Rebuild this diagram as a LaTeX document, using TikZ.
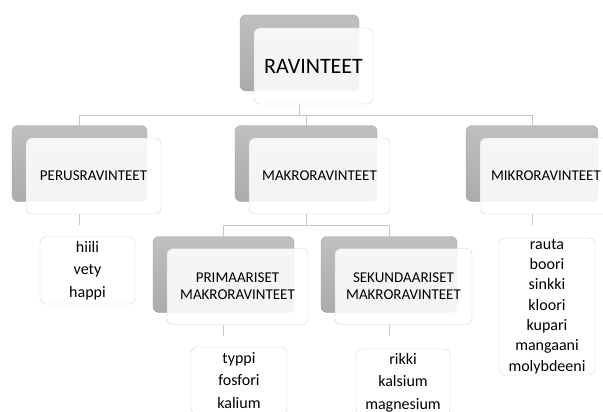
\documentclass[tikz,border=0pt]{standalone}
\usepackage{fontspec}
\setmainfont{Carlito}
\usepackage{tikz}

\begin{document}
\begin{tikzpicture}[x=1pt,y=-1pt,
    back/.style={draw=gray!70, rounded corners=6pt, top color=gray!50, bottom color=gray!66,
                 minimum height=76pt, inner sep=0pt},
    front/.style={draw=gray!35, rounded corners=6pt, fill=white, fill opacity=0.87, text opacity=1,
                  minimum height=76pt, inner sep=0pt, align=center, font=\fontsize{15}{17}\selectfont},
    leaf/.style={draw=gray!35, rounded corners=6pt, fill=white, inner sep=0pt, align=center,
                 font=\fontsize{16}{22.5}\selectfont},
    conn/.style={draw=gray!45, line width=1pt}]
                \clip (0,0) rectangle (603,412);
                \fill[white] (0,0) rectangle (603,412);
                % paa
                \node[back, minimum width=119pt] (rootb) at (299.5,53) {};
                \node[front, minimum width=119pt, font=\fontsize{22}{26}\selectfont] (rootf) at (313.5,66) {RAVINTEET};
                % toinen taso
                \node[back, minimum width=135pt] (perusb) at (79.5,163.5) {};
                \node[front, minimum width=135pt] (perusf) at (93.5,176) {PERUSRAVINTEET};
                \node[back, minimum width=142pt] (makrob) at (306,163.5) {};
                \node[front, minimum width=141pt] (makrof) at (319.5,176) {MAKRORAVINTEET};
                \node[back, minimum width=132pt] (mikrob) at (532,163.5) {};
                \node[front, minimum width=132pt] (mikrof) at (546,176) {MIKRORAVINTEET};
                % makroravinteet
                \node[back, minimum width=141pt] (primb) at (223.5,274.5) {};
                \node[front, minimum width=141pt] (primf) at (237.5,286.5) {PRIMAARISET\\MAKRORAVINTEET};
                \node[back, minimum width=136pt] (sekb) at (389,274.5) {};
                \node[front, minimum width=137pt] (sekf) at (403.5,286.5) {SEKUNDAARISET\\MAKRORAVINTEET};
                % alkuaineet
                \node[leaf, minimum width=95pt, minimum height=67pt] (perusl) at (87.5,270.5) {hiili\\vety\\happi};
                \node[leaf, minimum width=96pt, minimum height=67pt] (priml) at (239,380.5) {typpi\\fosfori\\kalium};
                \node[leaf, minimum width=94pt, minimum height=67pt] (sekl) at (403,382.5) {rikki\\kalsium\\magnesium};
                \node[leaf, minimum width=96pt, minimum height=137pt, font=\fontsize{16}{20.3}\selectfont]
                    (mikrol) at (547,306.5) {rauta\\boori\\sinkki\\kloori\\kupari\\mangaani\\molybdeeni};
                % viivat
                \draw[conn] (rootb.south |- rootf.south) -- ++(0,11) -| (perusb.north);
                \draw[conn] (rootb.south |- rootf.south) -- ++(0,11) -| (makrob.north);
                \draw[conn] (rootb.south |- rootf.south) -- ++(0,11) -| (mikrob.north);
                \draw[conn] (makrob.south |- makrof.south) -- ++(0,11) -| (primb.north);
                \draw[conn] (makrob.south |- makrof.south) -- ++(0,11) -| (sekb.north);
                \draw[conn] (perusb.south |- perusf.south) -- ++(0,11);
                \draw[conn] (mikrob.south |- mikrof.south) -- ++(0,11);
                \draw[conn] (primb.south |- primf.south) -- ++(0,11);
                \draw[conn] (sekb.south |- sekf.south) -- ++(0,11);
\end{tikzpicture}
\end{document}
